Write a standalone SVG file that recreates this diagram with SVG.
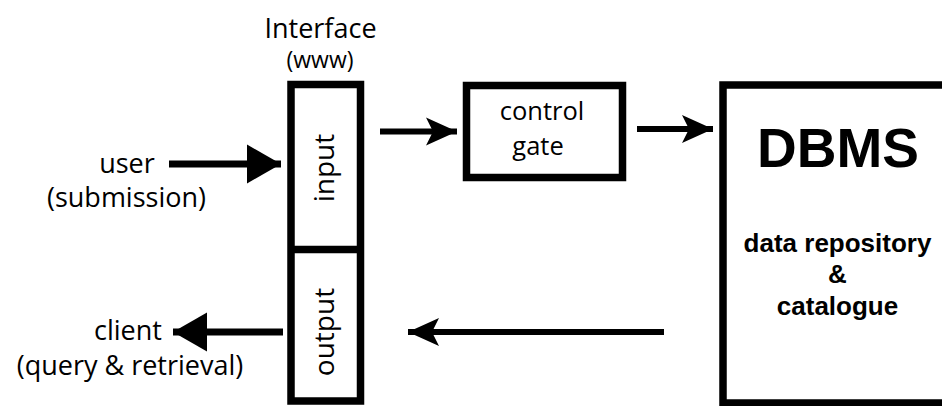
<svg xmlns="http://www.w3.org/2000/svg" width="942" height="406" viewBox="0 0 942 406">
<style>
.lbl{font-family:"Open Sans","Liberation Sans",sans-serif;font-size:27px;fill:#000;text-anchor:middle}
.bold{font-family:"Liberation Sans",Arial,sans-serif;font-weight:bold;fill:#000;text-anchor:middle}
.box{fill:#fff;stroke:#000;stroke-width:7.5}
.thin{stroke:#000;stroke-width:6;fill:none}
.thick{stroke:#000;stroke-width:7;fill:none}
</style>
<defs>
<marker id="barb" markerUnits="userSpaceOnUse" viewBox="-32 -15 34 30" refX="0" refY="0" markerWidth="34" markerHeight="30" orient="auto" overflow="visible">
<path d="M0,0 L-31,-14 L-24,0 L-31,14 Z" fill="#000"/>
</marker>
<marker id="tri" markerUnits="userSpaceOnUse" viewBox="-35 -20 36 40" refX="0" refY="0" markerWidth="36" markerHeight="40" orient="auto" overflow="visible">
<path d="M0,0 L-34,-19.5 L-34,19.5 Z" fill="#000"/>
</marker>
</defs>
<text class="lbl" x="320.5" y="38">Interface</text>
<text class="lbl" x="320" y="68" style="font-size:23px">(www)</text>
<g id="interface">
<rect class="box" x="291" y="84.5" width="69.5" height="316.5"/>
<line x1="291" y1="249.5" x2="360.5" y2="249.5" stroke="#000" stroke-width="7.5"/>
</g>
<g id="input">
<text class="lbl" transform="translate(334,168) rotate(-90)" style="font-size:28px">input</text>
</g>
<g id="output">
<text class="lbl" transform="translate(334,332) rotate(-90)" style="font-size:28px">output</text>
</g>
<g id="control-gate">
<rect class="box" x="466.5" y="85.5" width="156" height="92" stroke-width="7"/>
<text class="lbl" style="font-size:25.5px"><tspan x="542" y="120">control</tspan><tspan x="538" y="155">gate</tspan></text>
</g>
<g id="dbms">
<rect class="box" x="723" y="85" width="240" height="318" stroke-width="7"/>
<text class="bold" x="838" y="167" style="font-size:55px">DBMS</text>
<text class="bold" style="font-size:26px"><tspan x="837.5" y="252">data repository</tspan><tspan x="837.5" y="283">&amp;</tspan><tspan x="837.5" y="315">catalogue</tspan></text>
</g>
<g id="user">
<text class="lbl"><tspan x="127" y="173">user</tspan><tspan x="126.5" y="207">(submission)</tspan></text>
</g>
<g id="client">
<text class="lbl"><tspan x="128" y="340">client</tspan><tspan x="130" y="375">(query &amp; retrieval)</tspan></text>
</g>
<g id="connectors">
<line class="thick" x1="169" y1="164" x2="281" y2="164" marker-end="url(#tri)"/>
<line class="thin" x1="380" y1="131.5" x2="457" y2="131.5" marker-end="url(#barb)"/>
<line class="thin" x1="637" y1="129" x2="713" y2="129" marker-end="url(#barb)"/>
<line class="thin" x1="664" y1="332" x2="408" y2="332" marker-end="url(#barb)"/>
<line class="thick" x1="283" y1="332" x2="173" y2="332" marker-end="url(#tri)"/>
</g>
</svg>
